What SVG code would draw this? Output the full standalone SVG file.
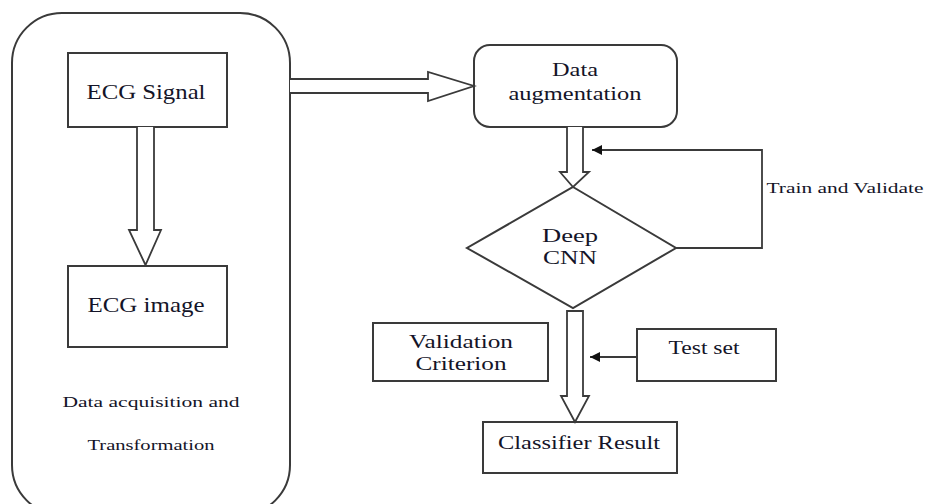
<svg xmlns="http://www.w3.org/2000/svg" width="927" height="504" viewBox="0 0 927 504">
<defs>
<style>
.box{fill:#fff;stroke:#3a3a3a;stroke-width:2}
.ln{fill:none;stroke:#3a3a3a;stroke-width:1.8}
.ar{fill:#fff;stroke:#3a3a3a;stroke-width:1.8;stroke-linejoin:miter}
.lbl{fill:#141428;text-anchor:middle}
.t19{font-size:19px}
.t21{font-size:21px}
.t15{font-size:15px}
</style>
<marker id="tri" viewBox="0 0 10 10" refX="10" refY="5" markerWidth="10" markerHeight="10" markerUnits="userSpaceOnUse" orient="auto">
<path d="M0,0 L10,5 L0,10 Z" fill="#111"/>
</marker>
</defs>
<rect width="927" height="504" fill="#fff"/>
<g font-family="Liberation Serif, DejaVu Serif, serif">
<g id="acquisition">
<rect class="box" x="12" y="13" width="278" height="502" rx="50" ry="50"/>
<text class="lbl t15" font-family="Liberation Serif, DejaVu Serif, serif" x="151" y="407" textLength="177" lengthAdjust="spacingAndGlyphs">Data acquisition  and</text>
<text class="lbl t15" font-family="Liberation Serif, DejaVu Serif, serif" x="151" y="450" textLength="127" lengthAdjust="spacingAndGlyphs">Transformation</text>
</g>

<g id="ecg-signal">
<rect class="box" x="68" y="53" width="159" height="74"/>
<text class="lbl t21" font-family="Liberation Serif, DejaVu Serif, serif" x="146" y="99" textLength="119" lengthAdjust="spacingAndGlyphs">ECG Signal</text>
</g>

<g id="ecg-image">
<rect class="box" x="68" y="266" width="159" height="81"/>
<text class="lbl t21" font-family="Liberation Serif, DejaVu Serif, serif" x="146" y="312" textLength="117" lengthAdjust="spacingAndGlyphs">ECG image</text>
</g>

<g id="data-augmentation">
<rect class="box" x="474" y="45" width="203" height="82" rx="16" ry="16"/>
<text class="lbl t19" font-family="Liberation Serif, DejaVu Serif, serif" x="575" y="76" textLength="46" lengthAdjust="spacingAndGlyphs">Data</text>
<text class="lbl t19" font-family="Liberation Serif, DejaVu Serif, serif" x="575" y="100" textLength="133" lengthAdjust="spacingAndGlyphs">augmentation</text>
</g>

<g id="deep-cnn">
<polygon class="box" points="573,187 676,248 573,308 467,248"/>
<text class="lbl t19" font-family="Liberation Serif, DejaVu Serif, serif" x="570" y="242" textLength="56" lengthAdjust="spacingAndGlyphs">Deep</text>
<text class="lbl t19" font-family="Liberation Serif, DejaVu Serif, serif" x="570" y="264" textLength="54" lengthAdjust="spacingAndGlyphs">CNN</text>
</g>

<g id="validation-criterion">
<rect class="box" x="373" y="323" width="175" height="58"/>
<text class="lbl t19" font-family="Liberation Serif, DejaVu Serif, serif" x="461" y="348" textLength="104" lengthAdjust="spacingAndGlyphs">Validation</text>
<text class="lbl t19" font-family="Liberation Serif, DejaVu Serif, serif" x="461" y="370" textLength="91" lengthAdjust="spacingAndGlyphs">Criterion</text>
</g>

<g id="test-set">
<rect class="box" x="637" y="329" width="139" height="52"/>
<text class="lbl t19" font-family="Liberation Serif, DejaVu Serif, serif" x="704" y="354" textLength="71" lengthAdjust="spacingAndGlyphs">Test set</text>
</g>

<g id="classifier-result">
<rect class="box" x="483" y="422" width="194" height="51"/>
<text class="lbl t19" font-family="Liberation Serif, DejaVu Serif, serif" x="579" y="449" textLength="162" lengthAdjust="spacingAndGlyphs">Classifier Result</text>
</g>

<g id="train-validate-label">
<text class="lbl t15" font-family="Liberation Serif, DejaVu Serif, serif" x="845" y="193" textLength="157" lengthAdjust="spacingAndGlyphs">Train  and  Validate</text>
</g>
</g>
<g id="connectors">
<path class="ar" d="M137,127 L137,230 L129,230 L145.5,265 L161,230 L154,230 L154,127"/>
<path class="ar" d="M290,79 L428,79 L428,72 L474,86 L428,101 L428,93 L290,93"/>
<path class="ar" d="M567,127 L567,172 L560,172 L573,187 L589,172 L583,172 L583,127"/>
<path class="ar" d="M567,311 L567,396 L561,396 L575,422 L589,396 L583,396 L583,311 Z"/>
<polyline class="ln" points="676,248 762,248 762,150 592,150" marker-end="url(#tri)"/>
<line class="ln" x1="637" y1="357" x2="590" y2="357" marker-end="url(#tri)"/>
</g>
</svg>
